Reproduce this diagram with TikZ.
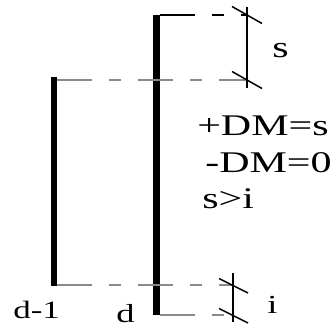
\documentclass[tikz,border=0pt]{standalone}
\usepackage{fontspec}
\setmainfont{Liberation Serif}
\usepackage{tikz}
\usetikzlibrary{calc}
\definecolor{levelgrey}{HTML}{8A8A8A}
\definecolor{barblack}{HTML}{000000}

\begin{document}
\begin{tikzpicture}[x=1pt,y=-1pt,
  bar/.style={barblack,line width=#1,line cap=butt},
  level/.style={levelgrey,line width=1.5pt,dash pattern=on 35pt off 17pt on 12pt off 17pt},
  gauge/.style={barblack,line width=1.8pt},
  tick/.style={barblack,line width=1.5pt},
  lbl/.style={inner sep=0,anchor=base west,xscale=1.4,font=\fontsize{#1}{#1}\selectfont},
  lbl/.default=30]
  \useasboundingbox (0,0) rectangle (336,328);
  % the two dipole bars
  \coordinate (lt) at (54,77);   \coordinate (lb) at (54,286);
  \coordinate (rt) at (156.5,15); \coordinate (rb) at (156.5,315);
  \draw[bar=6pt] (lt) -- (lb);
  \draw[bar=7pt] (rt) -- (rb);
  % level lines
  \coordinate (sa) at (247,15);  \coordinate (sb) at (247,80);
  \coordinate (ia) at (233,285); \coordinate (ib) at (233,315);
  \draw[level,barblack] (160,15) -- (sa);
  \draw[level] (57,80) -- (sb);
  \draw[level] (57,285) -- (ia);
  \draw[level] (160,315) -- (ib);
  % gauges with slashes
  \draw[gauge] ($(sa)+(0,-8)$) -- ($(sb)+(0,8)$);
  \draw[gauge] ($(ia)+(0,-12)$) -- ($(ib)+(0,7)$);
  \foreach \p in {sa,sb}{
    \draw[tick] ($(\p)+(-15,-8.5)$) -- ($(\p)+(15,8.5)$);
  }
  \foreach \p in {ia,ib}{
    \draw[tick] ($(\p)+(-14,-6.5)$) -- ($(\p)+(15,8)$);
  }
  % labels
  \node[lbl=30] (ls) at (272,58) {s};
  \node[lbl=26] (li) at (267,313) {i};
  \node[lbl=25] (ld1) at (13,318) {d-1};
  \node[lbl=26] (ld) at (116,322) {d};
  \node[lbl] (dmp) at (197,136) {+DM=s};
  \node[lbl] (dmm) at (205,172) {-DM=0};
  \node[lbl] (sgi) at (202,208) {s>i};
\end{tikzpicture}
\end{document}
